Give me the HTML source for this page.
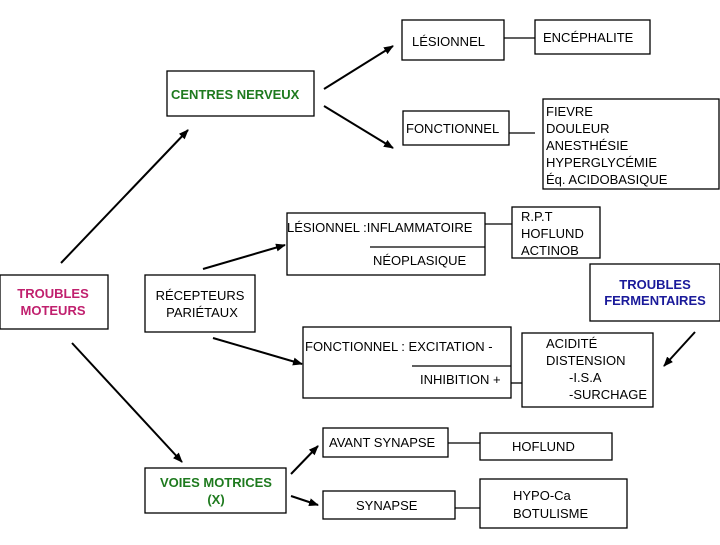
<!DOCTYPE html>
<html><head><meta charset="utf-8"><style>
body{margin:0;background:#fff;}
svg text{font-family:"Liberation Sans",sans-serif;font-size:13px;fill:#000;}
.b{font-weight:bold;}
</style></head><body>
<svg width="720" height="540" viewBox="0 0 720 540" xmlns="http://www.w3.org/2000/svg">
<defs><marker id="a" markerWidth="12" markerHeight="10" refX="9" refY="4" orient="auto" markerUnits="userSpaceOnUse"><path d="M0,0 L10,4 L0,8 z" fill="#000"/></marker></defs>
<g fill="none" stroke="#000" stroke-width="1.3">
<rect x="402" y="20" width="102" height="40"/>
<rect x="535" y="20" width="115" height="34"/>
<line x1="504" y1="38" x2="535" y2="38"/>
<rect x="167" y="71" width="147" height="45"/>
<rect x="403" y="111" width="106" height="34"/>
<rect x="543" y="99" width="176" height="90"/>
<line x1="509" y1="133" x2="535" y2="133"/>
<rect x="287" y="213" width="198" height="62"/>
<line x1="370" y1="247" x2="485" y2="247"/>
<rect x="512" y="207" width="88" height="51"/>
<line x1="485" y1="224" x2="512" y2="224"/>
<rect x="590" y="264" width="130" height="57"/>
<rect x="0" y="275" width="108" height="54"/>
<rect x="145" y="275" width="110" height="57"/>
<rect x="303" y="327" width="208" height="71"/>
<line x1="412" y1="366" x2="511" y2="366"/>
<rect x="522" y="333" width="131" height="74"/>
<line x1="511" y1="383" x2="522" y2="383"/>
<rect x="145" y="468" width="141" height="45"/>
<rect x="323" y="428" width="125" height="29"/>
<rect x="480" y="433" width="132" height="27"/>
<line x1="448" y1="443" x2="480" y2="443"/>
<rect x="323" y="491" width="132" height="28"/>
<rect x="480" y="479" width="147" height="49"/>
<line x1="455" y1="508" x2="480" y2="508"/>
</g>
<g stroke="#000" stroke-width="2" marker-end="url(#a)">
<line x1="324" y1="89" x2="393" y2="46"/>
<line x1="324" y1="106" x2="393" y2="148"/>
<line x1="61" y1="263" x2="188" y2="130"/>
<line x1="213" y1="338" x2="302" y2="364"/>
<line x1="72" y1="343" x2="182" y2="462"/>
<line x1="291" y1="474" x2="318" y2="446"/>
<line x1="291" y1="496" x2="318" y2="505"/>
<line x1="695" y1="332" x2="664" y2="366"/>
<line x1="203" y1="269" x2="285" y2="245"/>
</g>
<text x="412" y="46">LÉSIONNEL</text>
<text x="543" y="42">ENCÉPHALITE</text>
<text x="171" y="99" class="b" style="fill:#1e7a1e">CENTRES NERVEUX</text>
<text x="406" y="133">FONCTIONNEL</text>
<text x="546" y="116">FIEVRE</text>
<text x="546" y="133">DOULEUR</text>
<text x="546" y="150">ANESTHÉSIE</text>
<text x="546" y="167">HYPERGLYCÉMIE</text>
<text x="546" y="184">Éq. ACIDOBASIQUE</text>
<text x="287" y="232">LÉSIONNEL :INFLAMMATOIRE</text>
<text x="373" y="265">NÉOPLASIQUE</text>
<text x="521" y="221">R.P.T</text>
<text x="521" y="238">HOFLUND</text>
<text x="521" y="255">ACTINOB</text>
<text x="655" y="289" class="b" text-anchor="middle" style="fill:#1a1a9a">TROUBLES</text>
<text x="655" y="305" class="b" text-anchor="middle" style="fill:#1a1a9a">FERMENTAIRES</text>
<text x="53" y="298" class="b" text-anchor="middle" style="fill:#c0206e">TROUBLES</text>
<text x="53" y="315" class="b" text-anchor="middle" style="fill:#c0206e">MOTEURS</text>
<text x="200" y="300" text-anchor="middle">RÉCEPTEURS</text>
<text x="202" y="317" text-anchor="middle">PARIÉTAUX</text>
<text x="305" y="351">FONCTIONNEL : EXCITATION -</text>
<text x="420" y="384">INHIBITION +</text>
<text x="546" y="348">ACIDITÉ</text>
<text x="546" y="365">DISTENSION</text>
<text x="569" y="382">-I.S.A</text>
<text x="569" y="399">-SURCHAGE</text>
<text x="216" y="487" class="b" text-anchor="middle" style="fill:#1e7a1e">VOIES MOTRICES</text>
<text x="216" y="504" class="b" text-anchor="middle" style="fill:#1e7a1e">(X)</text>
<text x="329" y="447">AVANT SYNAPSE</text>
<text x="512" y="451">HOFLUND</text>
<text x="356" y="510">SYNAPSE</text>
<text x="513" y="500">HYPO-Ca</text>
<text x="513" y="518">BOTULISME</text>
</svg>
</body></html>
